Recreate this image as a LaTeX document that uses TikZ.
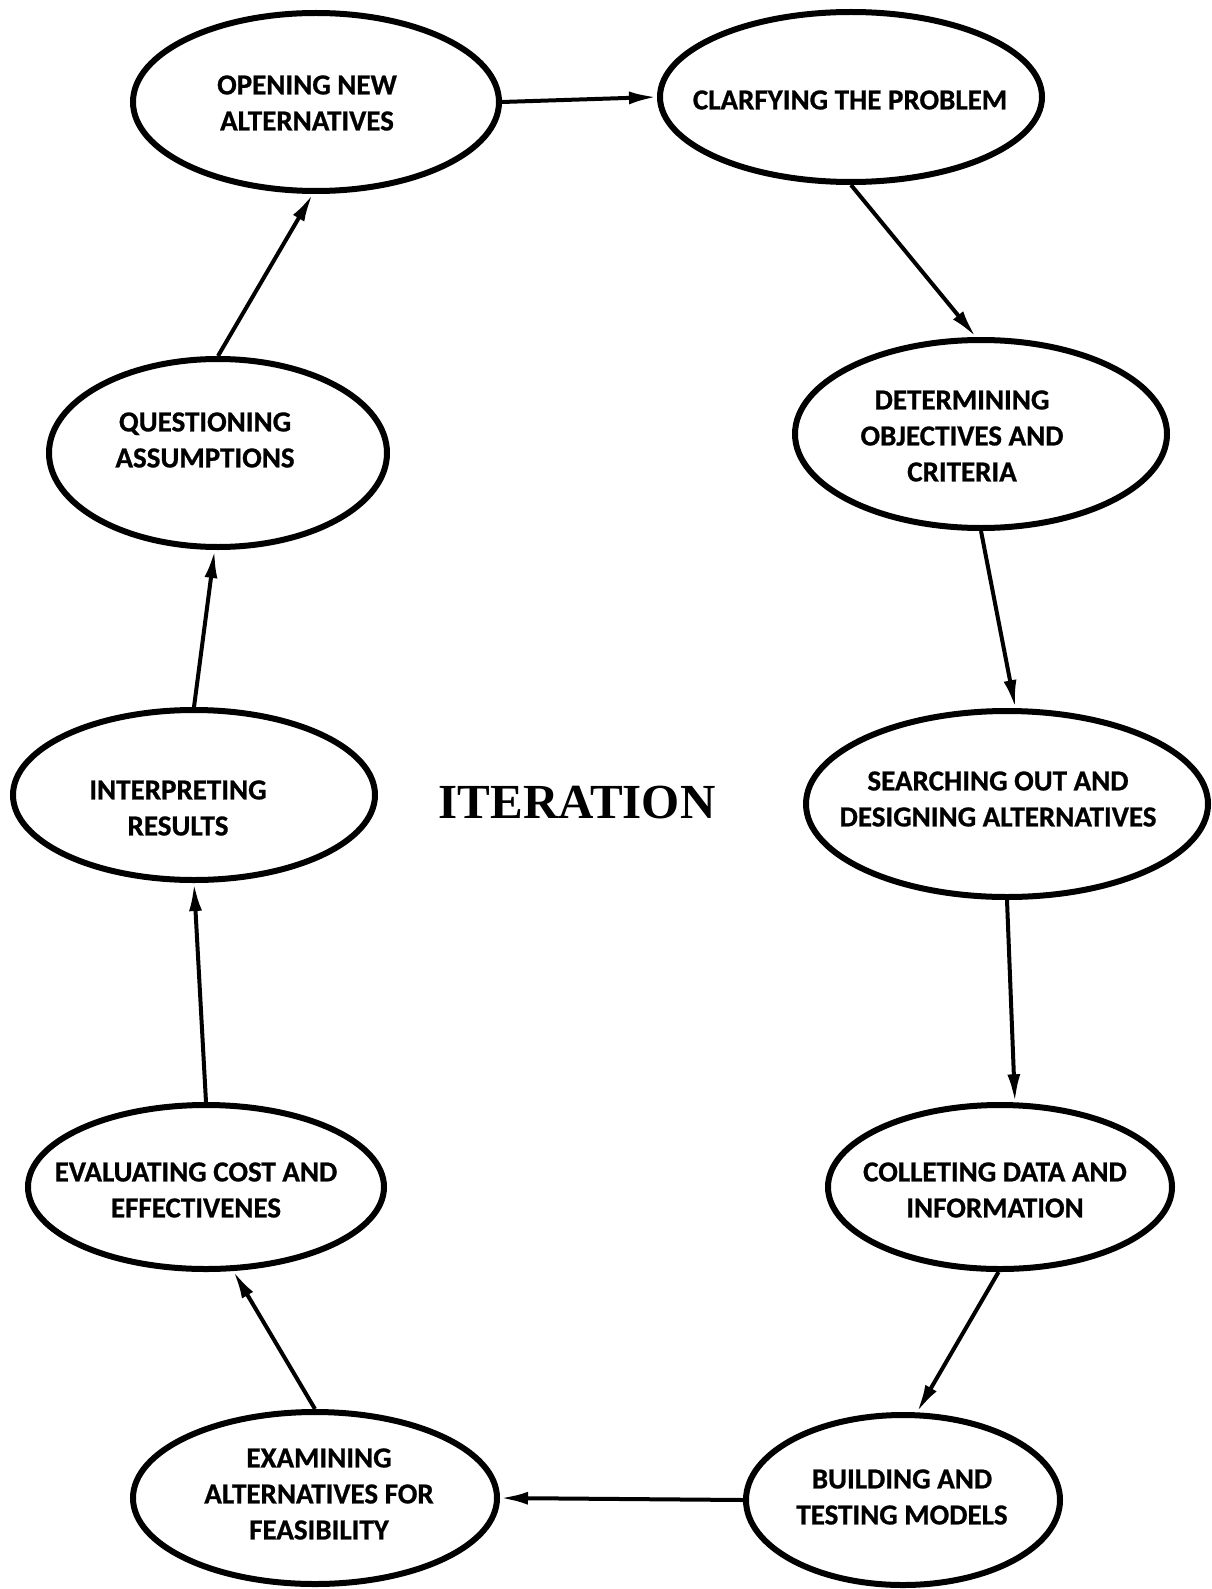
\documentclass[tikz,border=0pt]{standalone}
\usepackage{fontspec}
\newfontfamily\lblfont{Carlito}[BoldFeatures={FakeBold=0.8}]
\newfontfamily\ttlfont{Liberation Serif}
\usetikzlibrary{shapes.geometric,arrows.meta}
\begin{document}
\begin{tikzpicture}[x=1pt,y=-1pt,
  oval/.style={draw,ellipse,line width=6pt,inner sep=0pt},
  lbl/.style={align=center,font=\lblfont\bfseries\fontsize{29}{36}\selectfont},
  conn/.style={line width=4pt,-{Latex[length=28pt,width=13pt]}}]
\useasboundingbox (0,0) rectangle (1211,1589);
\node[oval,minimum width=366pt,minimum height=178pt] (A) at (316,102) {};
\node[oval,minimum width=382pt,minimum height=170pt] (B) at (851,97) {};
\node[oval,minimum width=372pt,minimum height=188pt] (C) at (981,434) {};
\node[oval,minimum width=338pt,minimum height=188pt] (D) at (218,453) {};
\node[oval,minimum width=362pt,minimum height=170pt] (E) at (194,795) {};
\node[oval,minimum width=402pt,minimum height=186pt] (F) at (1007,804) {};
\node[oval,minimum width=356pt,minimum height=164pt] (G) at (206,1187) {};
\node[oval,minimum width=344pt,minimum height=164pt] (H) at (1000,1187) {};
\node[oval,minimum width=364pt,minimum height=172pt] (I) at (315,1498) {};
\node[oval,minimum width=314pt,minimum height=170pt] (J) at (903,1500) {};

\node[lbl] (At) at (307,103) {OPENING NEW\\ALTERNATIVES};
\node[lbl] (Bt) at (850,100) {CLARFYING THE PROBLEM};
\node[lbl] (Ct) at (962,436) {DETERMINING\\OBJECTIVES AND\\CRITERIA};
\node[lbl] (Dt) at (205,440) {QUESTIONING\\ASSUMPTIONS};
\node[lbl] (Et) at (178,808) {INTERPRETING\\RESULTS};
\node[lbl] (Ft) at (998,799) {SEARCHING OUT AND\\DESIGNING ALTERNATIVES};
\node[lbl] (Gt) at (196,1190) {EVALUATING COST AND\\EFFECTIVENES};
\node[lbl] (Ht) at (995,1190) {COLLETING DATA AND\\INFORMATION};
\node[lbl] (It) at (319,1494) {EXAMINING\\ALTERNATIVES FOR\\FEASIBILITY};
\node[lbl] (Jt) at (902,1497) {BUILDING AND\\TESTING MODELS};

\node[font=\ttlfont\bfseries\fontsize{49}{56}\selectfont] (T) at (577,803) {ITERATION};

\draw[conn] (A.east) -- (B.west);
\draw[conn] (B.south) -- (C.93);
\draw[conn] (C.south) -- (F.85);
\draw[conn] (F.south) -- (H.80);
\draw[conn] (H.269) -- (J.81);
\draw[conn] (J.west) -- (I.east);
\draw[conn] (I.north) -- (G.288);
\draw[conn] (G.north) -- (E.south);
\draw[conn] (E.north) -- (D.268);
\draw[conn] (D.north) -- (A.268);
\end{tikzpicture}
\end{document}
